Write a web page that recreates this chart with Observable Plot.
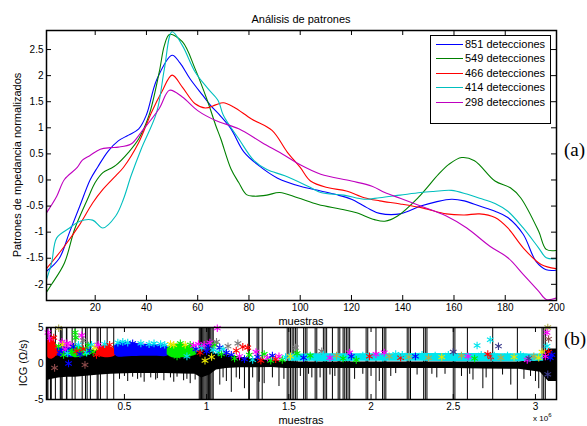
<!DOCTYPE html>
<html><head><meta charset="utf-8">
<script src="https://cdn.jsdelivr.net/npm/d3@7"></script>
<script src="https://cdn.jsdelivr.net/npm/@observablehq/plot@0.6"></script>
<style>
body{margin:0;background:#fff;}
#wrap{position:relative;width:587px;height:426px;font-family:"Liberation Sans",Arial,sans-serif;overflow:hidden;background:#fff;color:#000}
#wrap svg{position:absolute;left:0;overflow:visible}
.lbl{position:absolute;font-size:11px;white-space:nowrap;line-height:13px}
.ctr{transform:translate(-50%,-50%)}
.rot{transform:translate(-50%,-50%) rotate(-90deg)}
.tag{position:absolute;font-family:"Liberation Serif","Times New Roman",serif;font-size:19px;line-height:19px;white-space:nowrap}
#legend{position:absolute;left:430px;top:35px;width:119px;height:87px;border:1.5px solid #000;background:#fff}
.row{position:absolute;left:0;height:14px;line-height:14px;font-size:11px;white-space:nowrap}
.row .ln{position:absolute;left:5px;top:7px;width:27px;height:0}
.row .tx{position:absolute;left:34px;top:0}
</style></head>
<body><div id="wrap"></div>
<script>
// ---------- Panel (a): normalized impedance patterns ----------
const seriesNames = ["851 detecciones","549 detecciones","466 detecciones","414 detecciones","298 detecciones"];
const seriesColors = ["#0000ff","#008000","#ff0000","#00bfbf","#bf00bf"];
const s851 = [[1,-1.75],[6,-1.5],[10,-1.0],[14,-0.5],[18,0],[21,0.25],[25,0.55],[29,0.75],[33,0.86],[37,0.98],[40,1.25],[44,1.92],[50,2.39],[53,2.25],[57,1.94],[62,1.62],[65,1.43],[69,1.22],[73,0.98],[78,0.54],[84,0.27],[91,0.04],[100,-0.12],[108,-0.21],[114,-0.28],[120,-0.37],[126,-0.53],[131,-0.64],[139,-0.65],[147,-0.5],[153,-0.42],[159,-0.37],[164,-0.4],[170,-0.5],[176,-0.6],[181,-0.72],[187,-1.04],[192,-1.56],[196,-1.72],[200,-1.73]];
const s549 = [[1,-2.15],[3,-2.0],[8,-1.59],[12,-0.94],[17,-0.37],[20,-0.05],[23,0.14],[26,0.22],[28,0.28],[33,0.53],[37,0.79],[41,1.24],[45,2.07],[47,2.58],[49,2.79],[54,2.65],[59,2.13],[64,1.49],[67,1.05],[69,0.79],[73,0.21],[76,-0.05],[79,-0.28],[82,-0.31],[87,-0.29],[92,-0.24],[99,-0.34],[107,-0.47],[116,-0.56],[122,-0.63],[129,-0.76],[133,-0.79],[138,-0.69],[146,-0.34],[154,0.11],[158,0.3],[163,0.43],[168,0.37],[176,-0.02],[182,-0.15],[186,-0.34],[193,-0.98],[196,-1.33],[200,-1.35]];
const s466 = [[1,-1.7],[8,-1.27],[14,-0.85],[19,-0.44],[23,-0.18],[28,0.08],[31,0.24],[37,0.72],[42,1.3],[46,1.69],[50,2.01],[54,1.78],[59,1.46],[63,1.38],[67,1.44],[70,1.48],[74,1.4],[81,1.17],[89,0.95],[95,0.53],[100,0.24],[104,-0.02],[111,-0.15],[118,-0.21],[125,-0.34],[131,-0.4],[139,-0.46],[148,-0.54],[157,-0.65],[164,-0.67],[170,-0.65],[176,-0.72],[181,-0.92],[187,-1.3],[194,-1.62],[200,-1.7]];
const s414 = [[1,-1.91],[3,-1.59],[5,-1.11],[10,-0.92],[14,-0.79],[19,-0.77],[23,-0.92],[28,-0.69],[31,-0.37],[34,0.08],[38,0.6],[44,1.3],[47,2.13],[50,2.84],[54,2.58],[59,2.07],[64,1.75],[68,1.52],[70,1.24],[76,0.79],[82,0.37],[87,0.2],[94,0.08],[103,-0.12],[108,-0.24],[117,-0.29],[125,-0.37],[131,-0.34],[139,-0.29],[147,-0.24],[152,-0.22],[159,-0.2],[165,-0.27],[170,-0.35],[176,-0.45],[181,-0.6],[187,-0.92],[193,-1.3],[196,-1.49],[200,-1.51]];
const s298 = [[1,-0.63],[5,-0.31],[8,0.01],[13,0.24],[15,0.38],[18,0.47],[22,0.59],[26,0.62],[29,0.63],[34,0.69],[38,0.92],[45,1.37],[49,1.72],[54,1.59],[60,1.33],[67,1.14],[76,0.98],[85,0.72],[94,0.47],[100,0.29],[108,0.11],[120,-0.02],[128,-0.12],[133,-0.24],[139,-0.35],[147,-0.5],[157,-0.69],[165,-0.92],[174,-1.27],[181,-1.49],[187,-1.81],[193,-2.13],[196,-2.29],[200,-2.26]];
const curvesA = [s851, s549, s466, s414, s298];
const xTicksA = [20,40,60,80,100,120,140,160,180,200];
const yTicksA = [-2,-1.5,-1,-0.5,0,0.5,1,1.5,2,2.5];

// ---------- Panel (b): ICG signal with detections ----------
const xTicksB = [0.5,1,1.5,2,2.5,3];
const yTicksB = [-5,0,5];
const icgX  = [0.026,0.06,0.1,0.15,0.2,0.25,0.3,0.35,0.42,0.46,0.55,0.65,0.75,0.85,0.93,0.97,1.02,1.06,1.12,1.2,1.3,1.4,1.48,1.55,1.7,1.9,2.1,2.3,2.5,2.7,2.9,3.03,3.08,3.128];
const icgLo = [-2.4,-2.2,-2.0,-1.9,-1.9,-1.8,-1.7,-1.6,-1.5,-1.45,-1.4,-1.4,-1.4,-1.45,-1.5,-2.0,-1.6,-0.9,-0.7,-0.6,-0.6,-0.55,-0.7,-0.7,-0.7,-0.7,-0.7,-0.7,-0.7,-0.75,-0.8,-1.2,-2.5,-2.5];
const icgHi = [2.0,1.8,1.8,1.8,1.8,1.8,1.8,1.8,1.6,1.4,1.4,1.4,1.4,1.4,1.5,1.8,1.6,1.4,1.2,0.9,0.6,0.4,0.3,0.2,0.2,0.2,0.2,0.2,0.2,0.2,0.2,0.6,2.0,2.0];
const spikeX = [0.03,0.035,0.05,0.055,0.08,0.11,0.115,0.121,0.147,0.15,0.182,0.2,0.243,0.263,0.273,0.293,0.334,0.34,0.354,0.395,0.435,
  0.955,0.962,0.969,0.976,0.983,0.99,0.997,1.004,1.011,1.018,1.025,1.033,1.04,
  1.256,1.26,1.307,1.317,1.338,1.49,1.5,1.51,1.52,1.53,1.54,1.55,1.59,1.6,1.61,1.66,1.67,1.71,1.72,1.73,1.765,1.8,1.81,1.83,1.84,1.85,1.86,1.87,
  1.97,1.98,2.03,2.07,2.08,2.09,2.22,2.23,2.24,2.32,2.33,2.34,2.5,2.51,2.586,2.74,2.89,3.04,3.05,3.06];
const downSpikes = [[0.47,-2.2],[0.5,-1.8],[0.52,-2.5],[0.55,-1.9],[0.58,-2.2],[0.6,-2.0],[0.62,-2.6],[0.66,-2.0],[0.69,-2.3],[0.7,-2.1],[0.74,-2.4],[0.78,-2.0],[0.8,-2.6],[0.82,-1.9],[0.86,-2.4],[0.88,-2.2],[0.9,-2.8],[0.93,-2.3],
  [1.08,-3.0],[1.1,-2.0],[1.12,-2.5],[1.15,-4.0],[1.18,-2.0],[1.2,-2.2],[1.23,-3.5],[1.28,-2.0],[1.32,-2.6],[1.35,-2.8],[1.4,-2.0],[1.44,-3.2],[1.47,-2.2],
  [1.57,-1.8],[1.62,-1.5],[1.64,-2.0],[1.69,-2.0],[1.75,-1.6],[1.78,-1.8],[1.9,-2.2],[1.95,-1.5],[2.0,-1.8],[2.05,-2.5],[2.12,-1.8],[2.15,-1.4],[2.28,-1.6],[2.37,-1.5],[2.4,-2.0],[2.45,-1.5],[2.55,-1.8],[2.6,-1.5],[2.62,-2.3],[2.68,-3.5],[2.7,-2.0],[2.8,-1.6],[2.85,-3.0],[2.93,-2.2],[2.97,-1.8],[3.0,-2.5],[3.02,-3.5]];
// dense detection clusters: class, x, low, high
const blobA = {cls:"r", x:[0.026,0.04,0.06,0.08,0.095], lo:[1.2,0.7,0.6,0.9,1.4], hi:[2.8,3.3,3.4,2.9,2.2]};
const blobB = {cls:"b", x:[0.09,0.12,0.15,0.18,0.21], lo:[1.1,0.9,1.0,0.8,1.1], hi:[2.1,2.4,2.3,2.2,2.0]};
const blobC = {cls:"g", x:[0.17,0.2,0.24,0.28,0.3], lo:[1.1,0.8,0.9,1.1,1.4], hi:[2.1,2.5,2.3,2.0,1.8]};
const blobD = {cls:"r", x:[0.33,0.36,0.4,0.43,0.455], lo:[1.4,0.9,0.8,0.9,1.3], hi:[2.0,2.5,2.4,2.2,1.8]};
const blobE = {cls:"b", x:[0.44,0.46,0.5,0.6,0.7,0.76,0.78], lo:[1.3,0.9,0.9,1.0,1.0,1.0,1.4], hi:[2.4,2.8,2.9,2.7,2.6,2.5,2.0]};
const blobG = {cls:"g", x:[0.76,0.79,0.85,0.9,0.94], lo:[1.2,0.8,0.8,0.9,1.2], hi:[2.0,2.6,2.7,2.4,2.0]};
const blobJ = {cls:"c", x:[1.5,1.7,2.0,2.3,2.6,2.9,3.05], lo:[0.3,0.25,0.3,0.3,0.25,0.25,0.3], hi:[1.3,1.35,1.35,1.4,1.4,1.35,1.3]};
const blobs = [blobA, blobB, blobC, blobD, blobE, blobG, blobJ];
// individual detections: x (millions of samples), value, class
const detX = [0.035,0.045,0.05,0.07,0.085,0.075,0.1,0.1,0.11,0.12,0.125,0.13,0.14,0.15,0.155,0.16,0.17,0.18,0.19,0.2,0.205,0.21,0.22,0.23,0.24,0.25,0.25,0.26,0.27,0.28,0.29,0.3,0.31,0.32,0.33,0.34,0.38,0.41,
  0.46,0.49,0.52,0.55,0.6,0.65,0.68,0.72,0.745,0.78,0.8,0.82,0.84,0.87,0.88,0.9,0.92,
  0.935,0.95,0.96,0.97,0.985,0.99,1.0,1.01,1.02,1.03,1.04,1.05,1.06,1.065,1.07,1.08,1.09,1.1,1.12,1.13,
  1.15,1.17,1.18,1.19,1.2,1.22,1.23,1.25,1.26,1.28,1.3,1.31,1.33,1.35,1.37,1.39,1.4,1.42,1.44,1.46,1.48,
  1.51,1.54,1.55,1.59,1.63,1.67,1.7,1.71,1.75,1.79,1.83,1.87,1.88,1.91,1.95,1.99,2.03,2.07,2.08,2.11,2.15,2.18,2.19,2.23,2.27,2.31,2.35,2.39,2.43,2.47,2.5,2.51,2.55,2.59,2.63,2.645,2.67,2.71,2.725,2.73,2.75,2.775,2.79,2.83,2.87,2.91,2.95,2.96,2.99,3.02,3.04,
  3.075,3.07,3.08,3.07,3.08,3.09,3.06,3.1,3.075];
const detV = [4.3,3.5,2.2,3.6,1.6,-0.6,4.9,2.4,1.5,3.0,2.6,1.2,2.0,2.8,1.4,0.0,2.6,1.6,2.3,4.3,3.6,1.7,2.6,1.3,3.9,3.2,2.0,-0.2,1.5,2.5,1.8,2.6,1.6,2.2,1.2,2.6,2.7,2.6,
  2.9,3.0,2.9,2.8,2.8,2.7,2.8,2.7,2.6,2.7,2.6,1.0,2.8,2.6,1.0,2.6,2.5,
  2.0,2.7,1.5,2.2,2.6,0.4,1.7,2.4,2.9,0.9,1.9,2.6,3.0,4.9,1.6,2.2,1.3,2.0,1.5,2.4,
  1.2,0.7,1.8,2.8,1.0,2.3,0.6,2.2,1.2,0.5,1.6,0.9,0.4,1.3,0.8,0.4,1.1,0.6,1.0,0.5,0.9,
  1.0,2.2,1.4,0.8,1.1,0.7,1.7,1.2,0.8,1.1,0.7,1.5,1.0,0.5,1.1,1.0,1.3,0.8,1.5,1.0,1.3,0.8,1.2,0.9,1.0,1.2,0.8,1.1,0.9,1.2,1.6,0.8,1.1,1.0,0.7,2.5,1.2,1.3,3.3,0.9,1.1,2.4,0.8,1.1,0.9,1.2,0.5,0.7,1.0,0.8,1.6,
  5.0,4.3,3.4,2.4,1.6,0.8,1.0,1.2,-1.5];
const detC = ["m","m","r","r","r","w","o","g","b","m","y","g","m","m","c","b","m","g","b","g","g","r","c","b","m","k","r","w","c","g","b","c","g","y","r","m","c","r",
  "c","c","c","b","c","c","c","c","c","y","y","g","g","y","c","g","m",
  "b","m","r","c","m","y","b","b","m","y","c","g","k","m","c","b","g","c","b","k",
  "b","g","r","k","m","r","b","r","g","c","m","b","r","g","m","g","b","r","m","g","c",
  "y","k","g","b","g","c","k","c","m","o","g","m","b","g","c","r","m","c","m","o","c","r","c","o","b","c","o","c","y","c","n","c","o","m","g","c","c","r","c","r","c","n","o","c","y","c","m","n","o","y","y",
  "o","m","w","c","r","b","m","b","n"];
const palette = {r:"#ff0000", g:"#00ee00", b:"#0000ff", c:"#00e5ee", m:"#ff00ff", y:"#e8e800", o:"#b0ad50", k:"#7a7a7a", n:"#3a3a8c", w:"#8b4a4a"};

// ---------- build ----------
const wrap = document.getElementById("wrap");
const FONT = "'Liberation Sans', Arial, sans-serif";
const fmt = d => String(d);

const lineRows = curvesA.flatMap((pts, i) => pts.map(([s, v]) => ({s, v, serie: seriesNames[i]})));
const HA = 270, WA = 510;
const plotA = Plot.plot({
  width: 587, height: 326,
  marginLeft: 46, marginRight: 31, marginTop: 30, marginBottom: 26,
  style: {fontFamily: FONT, fontSize: "10px", background: "transparent", color: "#000"},
  x: {domain: [1, 200]},
  y: {domain: [-2.31, 2.865]},
  color: {domain: seriesNames, range: seriesColors},
  marks: [
    Plot.line(lineRows, {x: "s", y: "v", z: "serie", stroke: "serie", curve: "catmull-rom", strokeWidth: 1.1, clip: true}),
    Plot.tickX(xTicksA, {x: d => d, insetTop: HA - 5, stroke: "#000"}),
    Plot.tickX(xTicksA, {x: d => d, insetBottom: HA - 5, stroke: "#000"}),
    Plot.tickY(yTicksA, {y: d => d, insetRight: WA - 5, stroke: "#000"}),
    Plot.tickY(yTicksA, {y: d => d, insetLeft: WA - 5, stroke: "#000"}),
    Plot.frame({stroke: "#000", strokeWidth: 1.5}),
    Plot.axisX(xTicksA, {tickSize: 0, tickPadding: 3, label: null, tickFormat: fmt}),
    Plot.axisY(yTicksA, {tickSize: 0, tickPadding: 3, label: null, tickFormat: fmt})
  ]
});
plotA.style.top = "0px";
wrap.appendChild(plotA);

const blobRows = blobs.flatMap((b, i) => b.x.map((x, j) => ({id: i, cls: b.cls, x, lo: b.lo[j], hi: b.hi[j]})));
const detRows = detX.map((x, i) => ({x, v: detV[i], cls: detC[i]}));
const icgRows = icgX.map((x, i) => ({x, lo: icgLo[i], hi: icgHi[i]}));
const HB = 72, WB = 510;
const plotB = Plot.plot({
  width: 587, height: 100,
  marginLeft: 46, marginRight: 31, marginTop: 1, marginBottom: 27,
  style: {fontFamily: FONT, fontSize: "10px", background: "transparent", color: "#000"},
  x: {domain: [0.026, 3.128]},
  y: {domain: [-5, 5]},
  marks: [
    Plot.areaY(icgRows, {x: "x", y1: "lo", y2: "hi", fill: "#000", clip: true}),
    Plot.ruleX(spikeX, {x: d => d, stroke: "#000", strokeWidth: 1}),
    Plot.ruleX(downSpikes, {x: d => d[0], y1: 0, y2: d => d[1], stroke: "#000", strokeWidth: 1, clip: true}),
    Plot.areaY(blobRows, {x: "x", y1: "lo", y2: "hi", z: "id", fill: d => palette[d.cls], curve: "catmull-rom"}),
    Plot.dot(detRows, {x: "x", y: "v", symbol: "asterisk", r: 3.6, stroke: d => palette[d.cls], strokeWidth: 1.1}),
    Plot.tickX(xTicksB, {x: d => d, insetTop: HB - 5, stroke: "#000"}),
    Plot.tickX(xTicksB, {x: d => d, insetBottom: HB - 5, stroke: "#000"}),
    Plot.tickY(yTicksB, {y: d => d, insetRight: WB - 5, stroke: "#000"}),
    Plot.tickY(yTicksB, {y: d => d, insetLeft: WB - 5, stroke: "#000"}),
    Plot.frame({stroke: "#000", strokeWidth: 1.5}),
    Plot.axisX(xTicksB, {tickSize: 0, tickPadding: 3, label: null, tickFormat: fmt}),
    Plot.axisY(yTicksB, {tickSize: 0, tickPadding: 3, label: null, tickFormat: fmt})
  ]
});
plotB.style.top = "326px";
wrap.appendChild(plotB);

function addText(txt, x, y, cls, extra) {
  const d = document.createElement("div");
  d.className = cls;
  d.style.left = x + "px"; d.style.top = y + "px";
  if (extra) Object.assign(d.style, extra);
  d.innerHTML = txt;
  wrap.appendChild(d);
  return d;
}
addText("Análisis de patrones", 301, 19, "lbl ctr");
addText("muestras", 301, 321, "lbl ctr");
addText("muestras", 301, 420, "lbl ctr");
addText("Patrones de mpedancia normalizados", 17, 165, "lbl rot");
addText("ICG (Ω/s)", 23, 363, "lbl rot");
addText("x 10<span style='font-size:6px;position:relative;top:-4px'>6</span>", 533, 414, "lbl", {fontSize: "8px", lineHeight: "10px"});
addText("(a)", 564, 140, "tag");
addText("(b)", 564, 329, "tag");

const leg = document.createElement("div");
leg.id = "legend";
seriesNames.forEach((n, i) => {
  const r = document.createElement("div");
  r.className = "row";
  r.style.top = (8 + 14.4 * i - 7) + "px";
  r.style.width = "100%";
  r.innerHTML = `<span class="ln" style="border-top:1.2px solid ${seriesColors[i]}"></span><span class="tx">${n}</span>`;
  leg.appendChild(r);
});
wrap.appendChild(leg);
</script>
</body></html>
